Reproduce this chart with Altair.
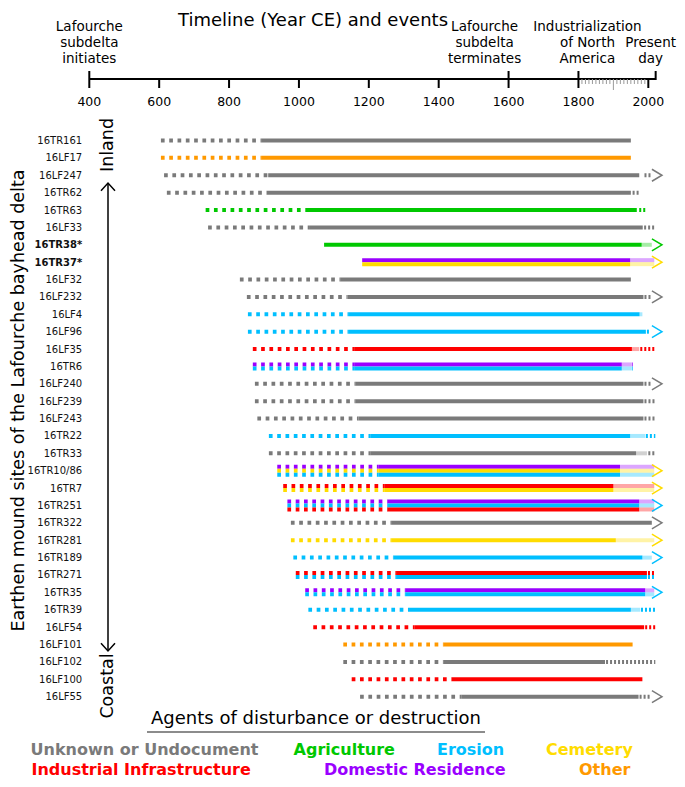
import json
import altair as alt
import pandas as pd

# ------------------------------------------------------------------ data
agent_codes = ["U", "A", "E", "C", "I", "D", "O"]
agent_names = ["Unknown or Undocument", "Agriculture", "Erosion", "Cemetery",
               "Industrial Infrastructure", "Domestic Residence", "Other"]
agent_colors = ["#7a7a7a", "#00c800", "#00bfff", "#ffdc00", "#ff0000", "#9a00ff", "#ff9900"]
AG = dict(zip(agent_codes, agent_names))

sites = ["16TR161", "16LF17", "16LF247", "16TR62", "16TR63", "16LF33", "16TR38*", "16TR37*",
         "16LF32", "16LF232", "16LF4", "16LF96", "16LF35", "16TR6", "16LF240", "16LF239",
         "16LF243", "16TR22", "16TR33", "16TR10/86", "16TR7", "16TR251", "16TR322", "16TR281",
         "16TR189", "16TR271", "16TR35", "16TR39", "16LF54", "16LF101", "16LF102", "16LF100",
         "16LF55"]
site_agents = ["U", "O", "U", "U", "A", "U", "A", "DC", "U", "U", "E", "E", "I", "DE", "U", "U",
               "U", "E", "U", "DCE", "IC", "DEI", "U", "C", "E", "IE", "DE", "E", "I", "O", "U", "I",
               "U"]
dot_start = [605, 605, 614, 622, 733, 740, None, None, 831, 851, 854, 854, 868, 868, 874, 874,
             881, 914, 914, 938, 955, 967, 977, 977, 984, 991, 1018, 1027, 1041, 1127, 1127, 1151,
             1175]
solid_start = [894, 894, 912, 908, 1020, 1029, 1072, 1181, 1120, 1139, 1143, 1143, 1158, 1158,
               1161, 1161, 1170, 1204, 1204, 1227, 1244, 1253, 1266, 1266, 1270, 1278, 1304, 1315,
               1330, 1413, 1413, 1437, 1466]
solid_end = [1950, 1950, 1974, 1950, 1967, 1984, 1981, 1948, 1950, 1986, 1975, 1993, 1953, 1924,
             1986, 1986, 1986, 1948, 1965, 1919, 1900, 1974, 2010, 1907, 1983, 1996, 1991, 1950,
             1988, 1955, 1876, 1983, 1972]
fade_end = [None, None, None, None, None, None, 2010, 2017, None, None, 1983, None, 1974, 1953,
            None, None, None, 1991, 1996, 2017, 2017, 2017, None, 2017, 2010, None, 2017, 1977,
            None, None, None, None, None]
tick_start = [None, None, 1989, 1955, 1974, 1988, None, None, None, 1989, None, 1996, 1977, 1954,
              1989, 1989, 1989, 1993, 2000, None, None, None, None, None, None, 1999, None, 1979,
              1991, None, 1879, None, 1975]
tick_end = [None, None, 2007, 1974, 1993, 2021, None, None, None, 2008, None, 2007, 2021, 1956,
            2007, 2021, 2021, 2020, 2020, None, None, None, None, None, None, 2020, None, 2020,
            2020, None, 2020, None, 2006]
arrow_agent = [None, None, "U", None, None, None, "A", "C", None, "U", None, "E", None, None, "U",
               None, None, None, None, "C", "C", "E", "U", "C", "E", None, "E", None, None, None,
               None, None, "U"]
ARROW_TIP_YEAR = 2039

year_ticks = [400, 600, 800, 1000, 1200, 1400, 1600, 1800, 2000]
event_years = [400, 1600, 1800, 2021]
event_labels = ["Lafourche\nsubdelta\ninitiates", "Lafourche\nsubdelta\nterminates",
                "Industrialization\nof North\nAmerica", "Present\nday"]
plain_tick_years = [600, 800, 1000, 1200, 1400, 2000]
minor_tick_years = [y for y in range(1810, 2000, 10) if y != 1900]
mid_minor_year = [1900]
timeline_span = [400, 2021]

# ------------------------------------------------------------------ layout
PAGE = 8
W = 573.0
ROW_PX = 17.38
H = ROW_PX * len(sites)
LEFT, TOP = 81.3, 123.8
RIGHT = 669 - LEFT - W
BOTTOM = 771 - TOP - H
LINE_PX = 4.0
FONT = "DejaVu Sans"


def px(xp):
    return xp - PAGE - LEFT


def py(yp):
    return yp - PAGE - TOP


event_dx = [0, -24, 9, -5]
event_first_line_y = [27, 27, 27, 43]
legend_pos = [(30.6, 750), (293.6, 750), (437, 750), (546, 750),
              (31.5, 770), (324, 770), (579, 770)]

# ------------------------------------------------------------------ tables
recs = []
for i, codes in enumerate(site_agents):
    n = len(codes)
    for k, c in enumerate(codes):
        yv = i + (k - (n - 1) / 2) * LINE_PX / ROW_PX
        base = {"row": i, "agent": AG[c], "y": yv}
        if dot_start[i] is not None:
            recs.append({**base, "kind": "dot", "x": dot_start[i], "x2": solid_start[i]})
        recs.append({**base, "kind": "solid", "x": solid_start[i], "x2": solid_end[i]})
        if fade_end[i] is not None:
            recs.append({**base, "kind": "fade", "x": solid_end[i], "x2": fade_end[i]})
        if tick_start[i] is not None:
            recs.append({**base, "kind": "tick", "x": tick_start[i], "x2": tick_end[i]})
seg_df = pd.DataFrame(recs)

arrow_df = pd.DataFrame([{"y": i, "agent": AG[a], "x": ARROW_TIP_YEAR}
                         for i, a in enumerate(arrow_agent) if a is not None])

bold_rows = [i for i, s in enumerate(sites) if s.endswith("*")]

# ------------------------------------------------------------------ scales / channels
xscale = alt.Scale(domain=[400, 2040], nice=False, zero=False)
yscale = alt.Scale(domain=[-0.5, len(sites) - 0.5], reverse=True, nice=False, zero=False)
cscale = alt.Scale(domain=agent_names, range=agent_colors)

yaxis = alt.Axis(
    values=list(range(len(sites))),
    labelExpr=f"{json.dumps(sites)}[datum.value]",
    domain=False, ticks=False, tickSize=0, grid=False,
    labelFontSize=10, labelFont=FONT, labelColor="#111111", labelPadding=7.6,
    labelOverlap=False, labelFlush=False, labelBaseline="middle",
    labelFontWeight={"condition": {"test": f"indexof({json.dumps(bold_rows)}, datum.value) >= 0",
                                   "value": "bold"}, "value": "normal"},
    title="Earthen mound sites of the Lafourche bayhead delta",
    titleFontSize=17.5, titleFontWeight="normal", titleFont=FONT, titleColor="black",
    titleAngle=270, titleX=px(18), titleY=py(400), titleBaseline="middle", titleAlign="center",
)

X = alt.X("x:Q", scale=xscale, axis=None)
Y = alt.Y("y:Q", scale=yscale, axis=yaxis)
C = alt.Color("agent:N", scale=cscale, legend=None)

layers = []

# ------------------------------------------------------------------ site lines
seg = alt.Chart(seg_df).encode(x=X, x2="x2:Q", y=Y, color=C)
layers.append(seg.transform_filter(alt.datum.kind == "dot")
              .mark_rule(strokeWidth=4, strokeDash=[3.7, 4.6], strokeCap="butt"))
layers.append(seg.transform_filter(alt.datum.kind == "solid")
              .mark_rule(strokeWidth=4, strokeCap="butt"))
layers.append(seg.transform_filter(alt.datum.kind == "fade")
              .mark_rule(strokeWidth=4, strokeCap="butt", opacity=0.35))
layers.append(seg.transform_filter(alt.datum.kind == "tick")
              .mark_rule(strokeWidth=4, strokeDash=[2, 2], strokeCap="butt"))

layers.append(alt.Chart(arrow_df).mark_point(
    shape="M-1.67,-1L0,0L-1.67,1", size=144, filled=False, strokeWidth=1.5, opacity=1
).encode(x=X, y=Y, color=C))

# ------------------------------------------------------------------ timeline
TX = alt.X("year:Q", scale=xscale, axis=None)
layers.append(alt.Chart(pd.DataFrame({"year": [timeline_span[0]], "year2": [timeline_span[1]]}))
              .mark_rule(color="black", strokeWidth=2)
              .encode(x=TX, x2="year2:Q", y=alt.value(py(79))))
layers.append(alt.Chart(pd.DataFrame({"year": plain_tick_years}))
              .mark_rule(color="black", strokeWidth=2)
              .encode(x=TX, y=alt.value(py(79)), y2=alt.value(py(88))))
layers.append(alt.Chart(pd.DataFrame({"year": event_years[:3]}))
              .mark_rule(color="black", strokeWidth=2)
              .encode(x=TX, y=alt.value(py(71)), y2=alt.value(py(88))))
layers.append(alt.Chart(pd.DataFrame({"year": event_years[3:]}))
              .mark_rule(color="black", strokeWidth=2)
              .encode(x=TX, y=alt.value(py(71)), y2=alt.value(py(80))))
layers.append(alt.Chart(pd.DataFrame({"year": minor_tick_years}))
              .mark_rule(color="#9a9a9a", strokeWidth=1)
              .encode(x=TX, y=alt.value(py(79)), y2=alt.value(py(84))))
layers.append(alt.Chart(pd.DataFrame({"year": mid_minor_year}))
              .mark_rule(color="#9a9a9a", strokeWidth=1)
              .encode(x=TX, y=alt.value(py(79)), y2=alt.value(py(90))))
layers.append(alt.Chart(pd.DataFrame({"year": year_ticks, "lab": [str(v) for v in year_ticks]}))
              .mark_text(fontSize=12.5, baseline="middle", align="center", color="black")
              .encode(x=TX, y=alt.value(py(102)), text="lab:N"))
for yr, lab, dx, fy in zip(event_years, event_labels, event_dx, event_first_line_y):
    layers.append(alt.Chart(pd.DataFrame({"year": [yr], "lab": [lab]}))
                  .mark_text(fontSize=13.5, lineHeight=16, baseline="middle", align="center",
                             lineBreak="\n", dx=dx, color="black")
                  .encode(x=TX, y=alt.value(py(fy)), text="lab:N"))

layers.append(alt.Chart(pd.DataFrame({"t": ["Timeline (Year CE) and events"]}))
              .mark_text(fontSize=18, align="center", baseline="middle", color="black")
              .encode(x=alt.value(px(313)), y=alt.value(py(21)), text="t:N"))

# ------------------------------------------------------------------ inland / coastal arrow
one = pd.DataFrame({"k": [0]})
layers.append(alt.Chart(pd.DataFrame({"t": ["Inland"]}))
              .mark_text(fontSize=17.5, angle=270, align="center", baseline="middle", color="black")
              .encode(x=alt.value(px(108)), y=alt.value(py(145)), text="t:N"))
layers.append(alt.Chart(pd.DataFrame({"t": ["Coastal"]}))
              .mark_text(fontSize=17.5, angle=270, align="center", baseline="middle", color="black")
              .encode(x=alt.value(px(108)), y=alt.value(py(686)), text="t:N"))
layers.append(alt.Chart(one).mark_rule(color="black", strokeWidth=1.5)
              .encode(x=alt.value(px(108)), y=alt.value(py(183)), y2=alt.value(py(651))))
layers.append(alt.Chart(one).mark_point(shape="M-1,1.1L0,0L1,1.1", size=196, filled=False,
                                        strokeWidth=1.5, color="black", opacity=1)
              .encode(x=alt.value(px(108)), y=alt.value(py(183))))
layers.append(alt.Chart(one).mark_point(shape="M-1,-1.1L0,0L1,-1.1", size=196, filled=False,
                                        strokeWidth=1.5, color="black", opacity=1)
              .encode(x=alt.value(px(108)), y=alt.value(py(651))))

# ------------------------------------------------------------------ legend
layers.append(alt.Chart(pd.DataFrame({"t": ["Agents of disturbance or destruction"]}))
              .mark_text(fontSize=18, align="center", baseline="middle", color="black")
              .encode(x=alt.value(px(316)), y=alt.value(py(719)), text="t:N"))
layers.append(alt.Chart(one).mark_rule(color="#8c8c8c", strokeWidth=2)
              .encode(x=alt.value(px(147)), x2=alt.value(px(485)), y=alt.value(py(732))))
for name, (lx, ly) in zip(agent_names, legend_pos):
    layers.append(alt.Chart(pd.DataFrame({"agent": [name]}))
                  .mark_text(fontSize=16, fontWeight="bold", align="left", baseline="middle")
                  .encode(x=alt.value(px(lx)), y=alt.value(py(ly)), text="agent:N", color=C))

chart = (
    alt.layer(*layers)
    .properties(width=W, height=H,
                padding={"left": LEFT, "top": TOP, "right": RIGHT, "bottom": BOTTOM},
                autosize=alt.AutoSizeParams(type="none"),
                background="white")
    .configure(font=FONT)
    .configure_view(stroke=None, strokeWidth=0)
)

chart.save("out.html", embed_options={"renderer": "svg", "actions": False})
